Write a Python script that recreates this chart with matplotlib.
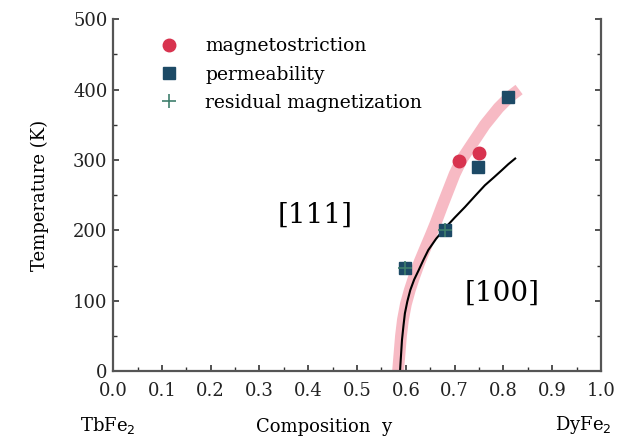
import matplotlib
matplotlib.use("Agg")
import matplotlib.pyplot as plt
from matplotlib.ticker import MultipleLocator, FormatStrFormatter

# measured points
magneto_y = [0.708, 0.750]
magneto_t = [299, 310]
perm_y = [0.598, 0.680, 0.748, 0.809]
perm_t = [146, 200, 290, 390]
resid_y = [0.598, 0.680]
resid_t = [146, 200]

# phase boundary (black) and pink band
boundary_y = [0.588, 0.590, 0.592, 0.595, 0.598, 0.603, 0.609, 0.617,
              0.626, 0.636, 0.646, 0.662, 0.680, 0.700, 0.721, 0.742,
              0.762, 0.780, 0.796, 0.810, 0.824]
boundary_t = [0, 22, 44, 64, 82, 99, 115, 130, 143, 158, 172, 188, 203,
              218, 233, 249, 264, 275, 285, 294, 302]
band_y = [0.584, 0.587, 0.590, 0.594, 0.600, 0.608, 0.617, 0.628, 0.640,
          0.651, 0.661, 0.674, 0.687, 0.700, 0.714, 0.735, 0.762, 0.790,
          0.813, 0.832]
band_t = [0, 25, 50, 73, 95, 115, 134, 155, 175, 193, 210, 234, 257,
          280, 300, 322, 350, 374, 390, 400]

plt.rcParams["font.family"] = ["DejaVu Serif"]

fig = plt.figure(figsize=(6.32, 4.46), dpi=100)
ax = fig.add_axes([0.179, 0.168, 0.772, 0.789])

ax.plot(band_y, band_t, color="#f5a9b6", lw=8.5, alpha=0.8,
        solid_capstyle="butt", solid_joinstyle="round", zorder=1)
ax.plot(boundary_y, boundary_t, color="black", lw=1.5, zorder=2,
        solid_joinstyle="round")

ax.plot(magneto_y, magneto_t, "o", color="#d8334f", ms=9, ls="none",
        zorder=3, label="magnetostriction")
ax.plot(perm_y, perm_t, "s", color="#1d4a66", ms=8, ls="none",
        zorder=3, label="permeability")
ax.plot(resid_y, resid_t, "+", color="#3f7f6d", ms=10, mew=1.2, ls="none",
        zorder=4, label="residual magnetization")

ax.text(0.414, 222, "[111]", fontsize=20, ha="center", va="center")
ax.text(0.797, 111, "[100]", fontsize=20, ha="center", va="center")

ax.set_xlim(0, 1.0)
ax.set_ylim(0, 500)
ax.xaxis.set_major_locator(MultipleLocator(0.1))
ax.xaxis.set_minor_locator(MultipleLocator(0.05))
ax.xaxis.set_major_formatter(FormatStrFormatter("%.1f"))
ax.yaxis.set_major_locator(MultipleLocator(100))
ax.yaxis.set_minor_locator(MultipleLocator(50))
ax.tick_params(which="both", direction="in", right=True, top=False,
               labelsize=13, colors="#333333", labelcolor="#222222")
ax.tick_params(which="major", length=4.5, width=1.2)
ax.tick_params(which="minor", length=3, width=1.0)
ax.tick_params(axis="x", pad=8)
ax.tick_params(axis="y", pad=4)
ax.spines["top"].set_visible(False)
for s in ["left", "right", "bottom"]:
    ax.spines[s].set_linewidth(1.6)
    ax.spines[s].set_color("#555555")

ax.set_ylabel("Temperature (K)", fontsize=13, labelpad=17)

fig.text(0.17, 0.047, "TbFe$_2$", fontsize=13, ha="center", va="center")
fig.text(0.512, 0.042, "Composition  y", fontsize=13, ha="center",
         va="center")
fig.text(0.923, 0.047, "DyFe$_2$", fontsize=13, ha="center", va="center")

ax.legend(loc="upper left", bbox_to_anchor=(0.079, 0.97), frameon=False,
          fontsize=13.5, handletextpad=1.45, labelspacing=0.55,
          handlelength=1.0, borderaxespad=0)

fig.savefig("out.png", dpi=100)
